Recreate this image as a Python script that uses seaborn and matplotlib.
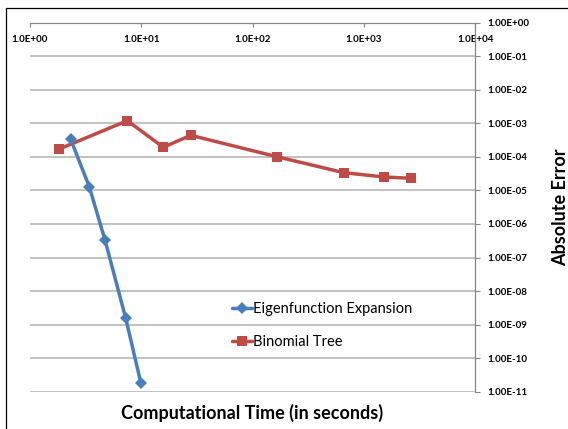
import matplotlib
matplotlib.use("Agg")
import matplotlib.pyplot as plt
from matplotlib.patches import Rectangle
from matplotlib.ticker import FixedLocator, NullLocator
import seaborn as sns
import pandas as pd

# ---- data ----
eig_time = [2.32, 3.41, 4.72, 7.25, 9.9]
eig_err = [3.35e-4, 1.29e-5, 3.33e-7, 1.55e-9, 1.86e-11]
bin_time = [1.83, 7.49, 15.8, 27.8, 166, 664, 1521, 2642]
bin_err = [1.72e-4, 1.2e-3, 1.93e-4, 4.4e-4, 1.01e-4, 3.38e-5, 2.52e-5, 2.3e-5]
x_ticks = [1e0, 1e1, 1e2, 1e3, 1e4]
x_tick_labels = ["1.0E+00", "1.0E+01", "1.0E+02", "1.0E+03", "1.0E+04"]
y_ticks = [10.0 ** (-k) for k in range(0, 12)]
y_tick_labels = ["1.00E+00"] + ["1.00E-%02d" % k for k in range(1, 12)]
series_names = ["Eigenfunction Expansion", "Binomial Tree"]

eig_df = pd.DataFrame({"time": eig_time, "err": eig_err})
bin_df = pd.DataFrame({"time": bin_time, "err": bin_err})

sns.set_theme(style="white")
plt.rcParams["font.family"] = ["Lato", "DejaVu Sans"]

W, H = 568, 429
fig = plt.figure(figsize=(W / 100, H / 100), dpi=100)
left, right, top, bottom = 30, 475, 22.7, 391.7
ax = fig.add_axes([left / W, 1 - bottom / H, (right - left) / W, (bottom - top) / H])

BLUE = "#4A7EBB"
RED = "#BE4B48"

sns.lineplot(data=eig_df, x="time", y="err", ax=ax, color=BLUE, marker="D",
             markersize=6.5, markeredgewidth=0, linewidth=2.5, label=series_names[0],
             sort=False, zorder=4)
sns.lineplot(data=bin_df, x="time", y="err", ax=ax, color=RED, marker="s",
             markersize=7.5, markeredgewidth=0, linewidth=2.5, label=series_names[1],
             sort=False, zorder=3)

ax.set_xscale("log")
ax.set_yscale("log")
ax.set_xlim(1, 1e4)
ax.set_ylim(1e-11, 1)

ax.xaxis.set_major_locator(FixedLocator(x_ticks))
ax.xaxis.set_minor_locator(NullLocator())
ax.set_xticks(x_ticks)
ax.set_xticklabels(x_tick_labels)
ax.yaxis.set_minor_locator(NullLocator())
ax.set_yticks(y_ticks)
ax.set_yticklabels(y_tick_labels)

ax.xaxis.tick_top()
ax.yaxis.tick_right()
ax.tick_params(axis="x", which="major", direction="in", length=3, width=0.8,
               color="#878787", pad=-15, labelsize=7, top=True, bottom=False,
               labeltop=True, labelbottom=False)
ax.tick_params(axis="y", which="major", direction="out", length=3.6, width=0.8,
               color="#878787", pad=5, labelsize=7, right=True, left=False,
               labelright=True, labelleft=False)
for lab in ax.get_xticklabels() + ax.get_yticklabels():
    lab.set_fontweight("bold")
    lab.set_color("black")

ax.grid(axis="y", color="#BDBDBD", linewidth=1.3)
ax.grid(axis="x", visible=False)
ax.set_axisbelow(True)

for s in ["left", "bottom"]:
    ax.spines[s].set_visible(False)
for s in ["top", "right"]:
    ax.spines[s].set_visible(True)
    ax.spines[s].set_color("#878787")
    ax.spines[s].set_linewidth(0.9)

ax.set_xlabel("")
ax.yaxis.set_label_position("right")
ax.set_ylabel("Absolute Error", fontsize=13, fontweight="bold", labelpad=16.5,
              color="black")

fig.text(252.5 / W, 1 - 413 / H, "Computational Time (in seconds)", ha="center",
         va="center", fontsize=13, fontweight="bold", color="black")

leg = ax.legend(loc="upper left", bbox_to_anchor=(232 / W, 1 - 302 / H),
                bbox_transform=fig.transFigure, frameon=False, fontsize=10.5,
                handlelength=1.35, handletextpad=0.1, labelspacing=1.3,
                borderpad=0, borderaxespad=0)
for t in leg.get_texts():
    t.set_color("black")

fig.add_artist(Rectangle((6 / W, -0.1), 1.2, 1.1 - 8 / H, transform=fig.transFigure,
                         fill=False, edgecolor="black", linewidth=0.9))

fig.savefig("out.png", dpi=100)
